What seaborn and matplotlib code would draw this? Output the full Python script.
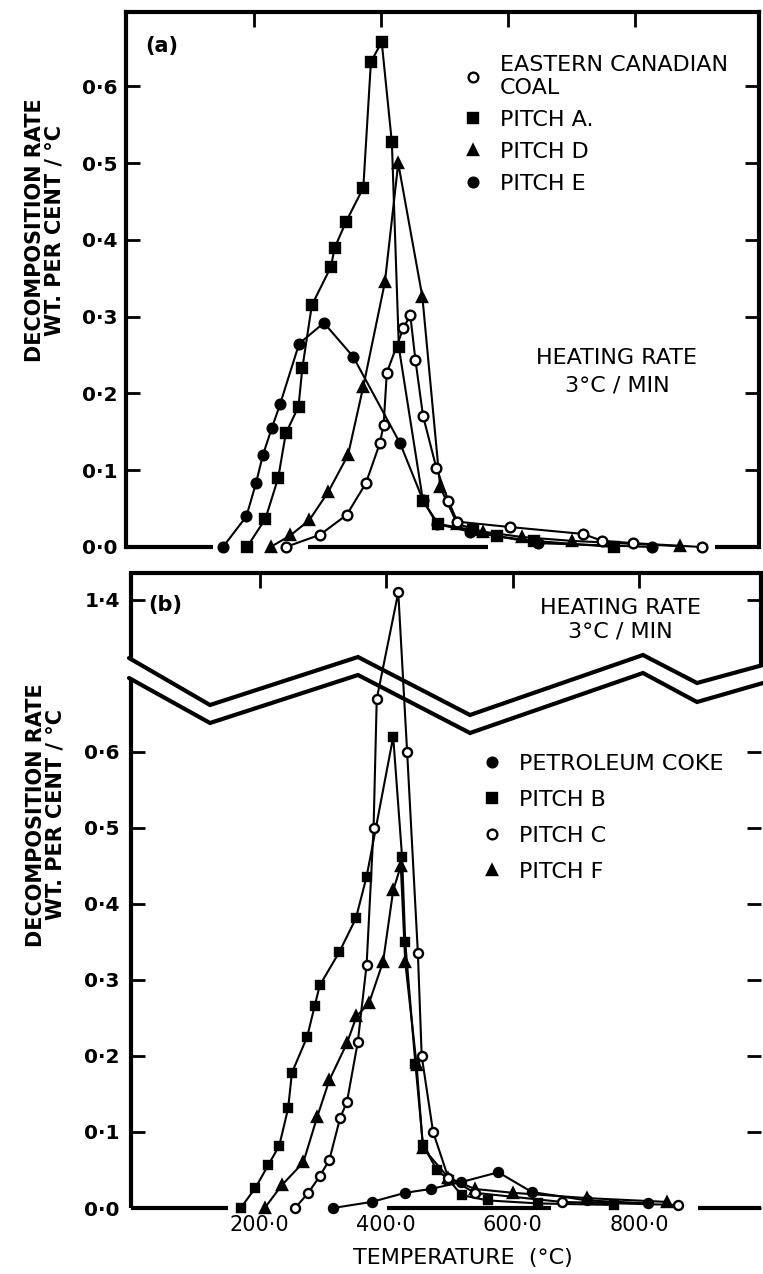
import numpy as np
import matplotlib
matplotlib.use("Agg")
import matplotlib.pyplot as plt
from matplotlib.lines import Line2D
from matplotlib.ticker import FixedLocator, FixedFormatter
import seaborn as sns

# ---------------- data: panel (a) ----------------
coal_T = [250, 304, 346, 376, 398, 404, 409, 435, 446, 454, 466, 487, 506, 520, 603, 718, 748, 797, 905]
coal_v = [0.0, 0.016, 0.042, 0.083, 0.135, 0.159, 0.227, 0.285, 0.302, 0.244, 0.171, 0.103, 0.06, 0.033,
          0.026, 0.017, 0.008, 0.005, 0.0]

pitchA_T = [189, 218, 238, 250, 270, 276, 291, 321, 327, 345, 372, 384, 401, 417, 428, 466, 490, 545, 582, 640, 766]
pitchA_v = [0.0, 0.037, 0.09, 0.148, 0.183, 0.233, 0.315, 0.365, 0.39, 0.424, 0.468, 0.632, 0.658, 0.527,
            0.26, 0.06, 0.03, 0.022, 0.014, 0.008, 0.0]

pitchD_T = [226, 257, 287, 317, 348, 372, 406, 427, 465, 493, 520, 560, 622, 700, 871]
pitchD_v = [0.0, 0.015, 0.035, 0.072, 0.12, 0.209, 0.345, 0.50, 0.326, 0.078, 0.03, 0.02, 0.013, 0.008, 0.001]

pitchE_T = [151, 188, 203, 214, 228, 241, 271, 310, 356, 430, 466, 488, 540, 647, 827]
pitchE_v = [0.0, 0.04, 0.083, 0.12, 0.155, 0.186, 0.265, 0.292, 0.248, 0.135, 0.061, 0.03, 0.02, 0.005, 0.0]

# ---------------- data: panel (b) ----------------
coke_T = [316, 377, 430, 470, 518, 577, 630, 717, 814]
coke_v = [0.0, 0.008, 0.02, 0.025, 0.034, 0.047, 0.021, 0.01, 0.006]

pitchB_T = [170, 193, 214, 231, 245, 251, 275, 287, 295, 326, 352, 369, 411, 425, 430, 446, 458, 480,
            499, 519, 560, 640, 760]
pitchB_v = [0.0, 0.026, 0.057, 0.082, 0.131, 0.178, 0.225, 0.266, 0.293, 0.337, 0.381, 0.436, 0.62, 0.462,
            0.35, 0.19, 0.083, 0.05, 0.037, 0.017, 0.01, 0.006, 0.004]

pitchC_T = [256, 277, 295, 310, 327, 338, 355, 369, 380, 385, 419, 433, 450, 456, 474, 498, 540, 677, 861]
pitchC_v = [0.0, 0.02, 0.042, 0.063, 0.118, 0.14, 0.218, 0.32, 0.5, 0.67, 1.41, 0.60, 0.335, 0.2, 0.1,
            0.04, 0.02, 0.008, 0.004]

pitchF_T = [208, 235, 269, 291, 310, 338, 353, 373, 395, 411, 423, 430, 448, 458, 498, 540, 600, 717, 843]
pitchF_v = [0.0, 0.03, 0.06, 0.12, 0.168, 0.217, 0.252, 0.27, 0.324, 0.418, 0.45, 0.324, 0.188, 0.079,
            0.04, 0.025, 0.02, 0.013, 0.008]

# ---------------- labels ----------------
a_labels = ["EASTERN CANADIAN\nCOAL", "PITCH A.", "PITCH D", "PITCH E"]
b_labels = ["PETROLEUM COKE", "PITCH B", "PITCH C", "PITCH F"]
x_ticks = [200, 400, 600, 800]
x_ticklabels = ["200·0", "400·0", "600·0", "800·0"]
ya_ticks = [0.0, 0.1, 0.2, 0.3, 0.4, 0.5, 0.6]
ya_ticklabels = ["0·0", "0·1", "0·2", "0·3", "0·4", "0·5", "0·6"]
yb_ticks = [0.0, 0.1, 0.2, 0.3, 0.4, 0.5, 0.6, 1.4]
yb_ticklabels = ["0·0", "0·1", "0·2", "0·3", "0·4", "0·5", "0·6", "1·4"]
ylabel = "DECOMPOSITION RATE\nWT. PER CENT / °C"
xlabel = "TEMPERATURE  (°C)"
rate_text = "HEATING RATE\n3°C / MIN"

sns.set_theme(style="ticks")
plt.rcParams["font.family"] = ["DejaVu Sans"]
plt.rcParams["axes.linewidth"] = 3.0
for k in ("text.color", "axes.labelcolor", "xtick.color", "ytick.color", "axes.edgecolor"):
    plt.rcParams[k] = "black"

W, H = 763, 1274
fig = plt.figure(figsize=(W / 100, H / 100), dpi=100)
fig.patch.set_facecolor("white")


def box(l, r, t, b):
    return [l / W, 1 - b / H, (r - l) / W, (b - t) / H]


ax_a = fig.add_axes(box(126, 759, 12, 547))
ax_b = fig.add_axes(box(131, 761, 573, 1208))


def draw(ax, T, v, marker, filled, ms=7.0):
    sns.lineplot(x=T, y=v, ax=ax, color="black", lw=1.5, marker=marker, markersize=ms,
                 markerfacecolor="black" if filled else "white", markeredgecolor="black",
                 markeredgewidth=1.7, estimator=None, sort=False, legend=False, clip_on=False)


# panel (a) series
draw(ax_a, pitchE_T, pitchE_v, "o", True)
draw(ax_a, pitchA_T, pitchA_v, "s", True, 6.5)
draw(ax_a, pitchD_T, pitchD_v, "^", True, 7.5)
draw(ax_a, coal_T, coal_v, "o", False)

# panel (b): broken y axis through a piecewise-linear scale
YK = [0.0, 0.73, 1.35, 1.6]
TK = [0.0, 0.73, 0.75, 1.0]


def fwd(y):
    return np.interp(y, YK, TK)


def inv(t):
    return np.interp(t, TK, YK)


ax_b.set_yscale("function", functions=(fwd, inv))

draw(ax_b, coke_T, coke_v, "o", True, 6.5)
draw(ax_b, pitchB_T, pitchB_v, "s", True, 6.0)
draw(ax_b, pitchF_T, pitchF_v, "^", True, 7.0)
draw(ax_b, pitchC_T, pitchC_v, "o", False, 6.5)

ax_a.set_xlim(-1.6, 995)
ax_a.set_ylim(0, 0.697)
ax_b.set_xlim(-3.2, 992)
ax_b.set_ylim(0, 1.4355)

for ax, pad in ((ax_a, 6), (ax_b, 8)):
    ax.set_facecolor("white")
    ax.xaxis.set_major_locator(FixedLocator(x_ticks))
    ax.tick_params(axis="x", which="both", direction="in", top=True, bottom=False,
                   length=11, width=2, color="black")
    ax.tick_params(axis="y", which="both", direction="in", left=True, right=True,
                   length=10, width=2, labelsize=14.5, pad=pad, color="black", labelcolor="black")
    ax.set_xlabel("")
    ax.set_ylabel("")

ax_a.yaxis.set_major_locator(FixedLocator(ya_ticks))
ax_a.yaxis.set_major_formatter(FixedFormatter(ya_ticklabels))
ax_a.yaxis.set_minor_locator(FixedLocator([]))
ax_a.tick_params(axis="x", labelbottom=False)

ax_b.yaxis.set_major_locator(FixedLocator(yb_ticks))
ax_b.yaxis.set_major_formatter(FixedFormatter(yb_ticklabels))
ax_b.yaxis.set_minor_locator(FixedLocator([]))
ax_b.xaxis.set_major_formatter(FixedFormatter(x_ticklabels))
ax_b.tick_params(axis="x", labelbottom=True, labelsize=15, pad=5, labelcolor="black")

for ax in (ax_a, ax_b):
    for lab in ax.get_yticklabels():
        lab.set_fontweight("bold")

# frames
ax_a.spines["bottom"].set_visible(False)
for sp in ("left", "right", "bottom"):
    ax_b.spines[sp].set_visible(False)

frame_kw = dict(color="black", lw=3.0, clip_on=False, solid_capstyle="butt", zorder=5)
# broken baselines
xa = ax_a.get_xaxis_transform()
for x0, x1 in ((-1.6, 135), (285, 568), (926, 995)):
    ax_a.plot([x0, x1], [0, 0], transform=xa, **frame_kw)
xb = ax_b.get_xaxis_transform()
for x0, x1 in ((-3.2, 150), (401, 660), (893, 992)):
    ax_b.plot([x0, x1], [0, 0], transform=xb, **frame_kw)
# interrupted side frames of panel (b)
ax_b.plot([0, 0], [0, 0.835], transform=ax_b.transAxes, **frame_kw)
ax_b.plot([0, 0], [0.866, 1.0], transform=ax_b.transAxes, **frame_kw)
ax_b.plot([1, 1], [0.855, 1.0], transform=ax_b.transAxes, **frame_kw)

# zig-zag axis break
zz_x = np.array([129, 210, 358, 470, 643, 697, 763])
zz_up = np.array([658, 705, 657, 715, 655, 683, 665])
zz_lo = np.array([678, 723, 675, 733, 673, 702, 683])
for yy in (zz_up, zz_lo):
    fig.add_artist(Line2D(zz_x / W, 1 - yy / H, transform=fig.transFigure, color="black",
                          lw=3.0, solid_joinstyle="miter", zorder=10))

# axis titles
for ax, lx, ly in ((ax_a, (45 - 126) / 633, (547 - 230) / 535),
                   (ax_b, (46 - 131) / 630, (1208 - 815) / 635)):
    ax.set_ylabel(ylabel, fontsize=15, fontweight="bold", va="center", ha="center",
                  linespacing=0.95, color="black")
    ax.yaxis.set_label_coords(lx, ly)
ax_b.set_xlabel(xlabel, fontsize=16, va="center", color="black")
ax_b.xaxis.set_label_coords((463 - 131) / 630, (1208 - 1258) / 635)

# panel tags and notes
fig.text(162 / W, 1 - 46 / H, "(a)", fontsize=15, fontweight="bold", ha="center", va="center")
fig.text(165 / W, 1 - 605 / H, "(b)", fontsize=15, fontweight="bold", ha="center", va="center")
fig.text(617 / W, 1 - 372 / H, rate_text, fontsize=16, ha="center", va="center", linespacing=1.45)
fig.text(620 / W, 1 - 620 / H, rate_text, fontsize=16, ha="center", va="center", linespacing=1.2)


def key(ax, labels, styles, anchor, spacing):
    handles = [Line2D([], [], ls="none", marker=m, ms=s, mfc="black" if f else "white",
                      mec="black", mew=1.7) for m, f, s in styles]
    leg = ax.legend(handles, labels, loc="upper left", bbox_to_anchor=(anchor[0] / W, 1 - anchor[1] / H),
                    bbox_transform=fig.transFigure, frameon=False, fontsize=16, handlelength=1.0,
                    handletextpad=0.7, labelspacing=spacing, borderpad=0, borderaxespad=0)
    for t in leg.get_texts():
        t.set_color("black")
    leg.set_zorder(12)


key(ax_a, a_labels, [("o", False, 7), ("s", True, 6.5), ("^", True, 7.5), ("o", True, 7)],
    (462, 55), 0.54)
key(ax_b, b_labels, [("o", True, 7), ("s", True, 6.5), ("o", False, 7), ("^", True, 7.5)],
    (481, 754), 0.72)

fig.savefig("out.png", dpi=100, facecolor="white")
